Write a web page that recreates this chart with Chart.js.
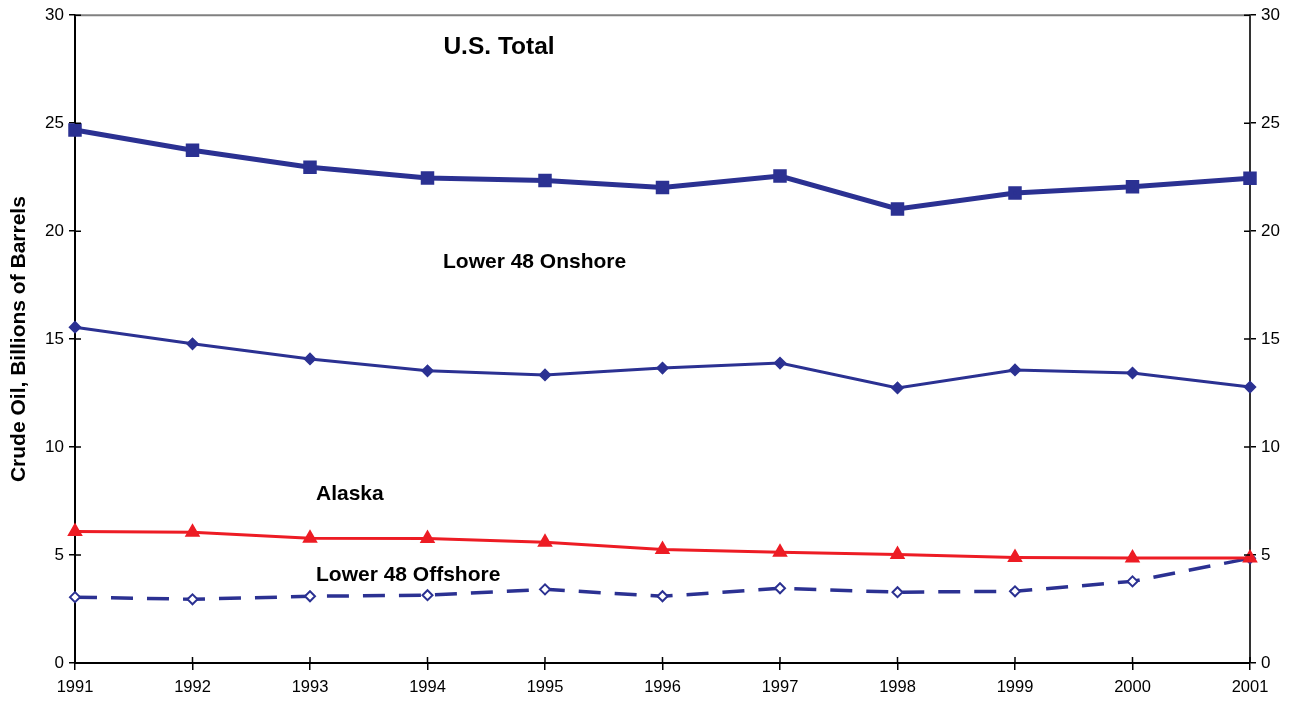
<!DOCTYPE html>
<html>
<head>
<meta charset="utf-8">
<script src="https://cdn.jsdelivr.net/npm/chart.js@4.4.0/dist/chart.umd.min.js"></script>
<style>
  html, body { margin: 0; padding: 0; background: #fff; }
  #wrap { width: 1292px; height: 702px; }
</style>
</head>
<body>
<div id="wrap"><canvas id="reservesChart" width="1292" height="702"></canvas></div>
<script>
const years = ['1991', '1992', '1993', '1994', '1995', '1996', '1997', '1998', '1999', '2000', '2001'];
const usTotal = [24.68, 23.75, 22.96, 22.46, 22.35, 22.02, 22.55, 21.03, 21.77, 22.05, 22.45];
const lower48Onshore = [15.55, 14.78, 14.08, 13.53, 13.34, 13.66, 13.89, 12.74, 13.57, 13.43, 12.78];
const alaska = [6.09, 6.05, 5.78, 5.77, 5.59, 5.26, 5.13, 5.03, 4.89, 4.86, 4.86];
const lower48Offshore = [3.05, 2.95, 3.09, 3.14, 3.41, 3.09, 3.46, 3.28, 3.32, 3.78, 4.85];
const yTicks = [0, 5, 10, 15, 20, 25, 30];

const navy = '#2b3192';
const red = '#ed1c24';
const font = 'Liberation Sans, Arial, sans-serif';

// series labels written on the plot
const notes = [
  { text: 'U.S. Total', x: 499, y: 47, size: 24.5, align: 'center' },
  { text: 'Lower 48 Onshore', x: 443, y: 262, size: 21, align: 'left' },
  { text: 'Alaska', x: 316, y: 494, size: 21, align: 'left' },
  { text: 'Lower 48 Offshore', x: 316, y: 575, size: 21, align: 'left' }
];

const notePlugin = {
  id: 'notes',
  afterDraw(chart) {
    const c = chart.ctx;
    const a = chart.chartArea;
    c.save();
    // grey top frame line
    c.strokeStyle = '#808080';
    c.lineWidth = 2;
    c.beginPath();
    c.moveTo(a.left, a.top);
    c.lineTo(a.right, a.top);
    c.stroke();
    // inner half of the crossing tick marks
    c.lineWidth = 1.5;
    c.strokeStyle = '#000';
    const sx = chart.scales.x, sy = chart.scales.y;
    c.beginPath();
    years.forEach((_, i) => {
      const px = sx.getPixelForValue(i);
      c.moveTo(px, a.bottom);
      c.lineTo(px, a.bottom - 6);
    });
    yTicks.forEach(v => {
      const py = sy.getPixelForValue(v);
      c.moveTo(a.left, py);
      c.lineTo(a.left + 6, py);
      c.moveTo(a.right, py);
      c.lineTo(a.right - 6, py);
    });
    c.stroke();
    c.fillStyle = '#000';
    c.textBaseline = 'middle';
    notes.forEach(n => {
      c.font = 'bold ' + n.size + 'px ' + font;
      c.textAlign = n.align;
      c.fillText(n.text, n.x, n.y);
    });
    c.restore();
  }
};

const yScale = (pos) => ({
  type: 'linear',
  position: pos,
  min: 0,
  max: 30,
  afterBuildTicks: s => { s.ticks = yTicks.map(v => ({ value: v })); },
  afterFit: s => { s.width = pos === 'left' ? 75 : 42; },
  grid: { drawOnChartArea: false, drawTicks: true, tickLength: 6, color: '#000', lineWidth: 1.5 },
  border: { color: pos === 'left' ? '#000' : '#333', width: 2 },
  ticks: { color: '#000', font: { family: font, size: 17 }, padding: 5 },
  title: pos === 'left'
    ? { display: true, text: 'Crude Oil, Billions of Barrels', color: '#000', font: { family: font, size: 21, weight: 'bold' }, padding: { top: 7, bottom: 0 } }
    : { display: false }
});

new Chart(document.getElementById('reservesChart'), {
  type: 'line',
  data: {
    labels: years,
    datasets: [
      { label: 'U.S. Total', data: usTotal, yAxisID: 'y', borderColor: navy, backgroundColor: navy,
        borderWidth: 5, pointStyle: 'rect', pointRadius: 6, tension: 0 },
      { label: 'Lower 48 Onshore', data: lower48Onshore, yAxisID: 'y', borderColor: navy, backgroundColor: navy,
        borderWidth: 3, pointStyle: 'rectRot', pointRadius: 4.5, tension: 0 },
      { label: 'Alaska', data: alaska, yAxisID: 'y', borderColor: red, backgroundColor: red,
        borderWidth: 3, pointStyle: 'triangle', pointRadius: 6, tension: 0 },
      { label: 'Lower 48 Offshore', data: lower48Offshore, yAxisID: 'y', borderColor: navy, backgroundColor: '#fff',
        borderWidth: 3.5, borderDash: [22, 14], pointStyle: 'rectRot', pointRadius: 5, pointBorderWidth: 2, tension: 0 }
    ]
  },
  options: {
    responsive: false,
    animation: false,
    layout: { padding: { top: 13 } },
    plugins: { legend: { display: false }, tooltip: { enabled: false } },
    scales: {
      x: {
        offset: false,
        afterFit: s => { s.height = 39; },
        grid: { drawOnChartArea: false, drawTicks: true, tickLength: 7, color: '#000', lineWidth: 1.5 },
        border: { color: '#000', width: 2 },
        ticks: { color: '#000', font: { family: font, size: 16.5 }, maxRotation: 0, autoSkip: false, padding: 8 }
      },
      y: yScale('left'),
      y2: yScale('right')
    }
  },
  plugins: [notePlugin]
});
</script>
</body>
</html>
